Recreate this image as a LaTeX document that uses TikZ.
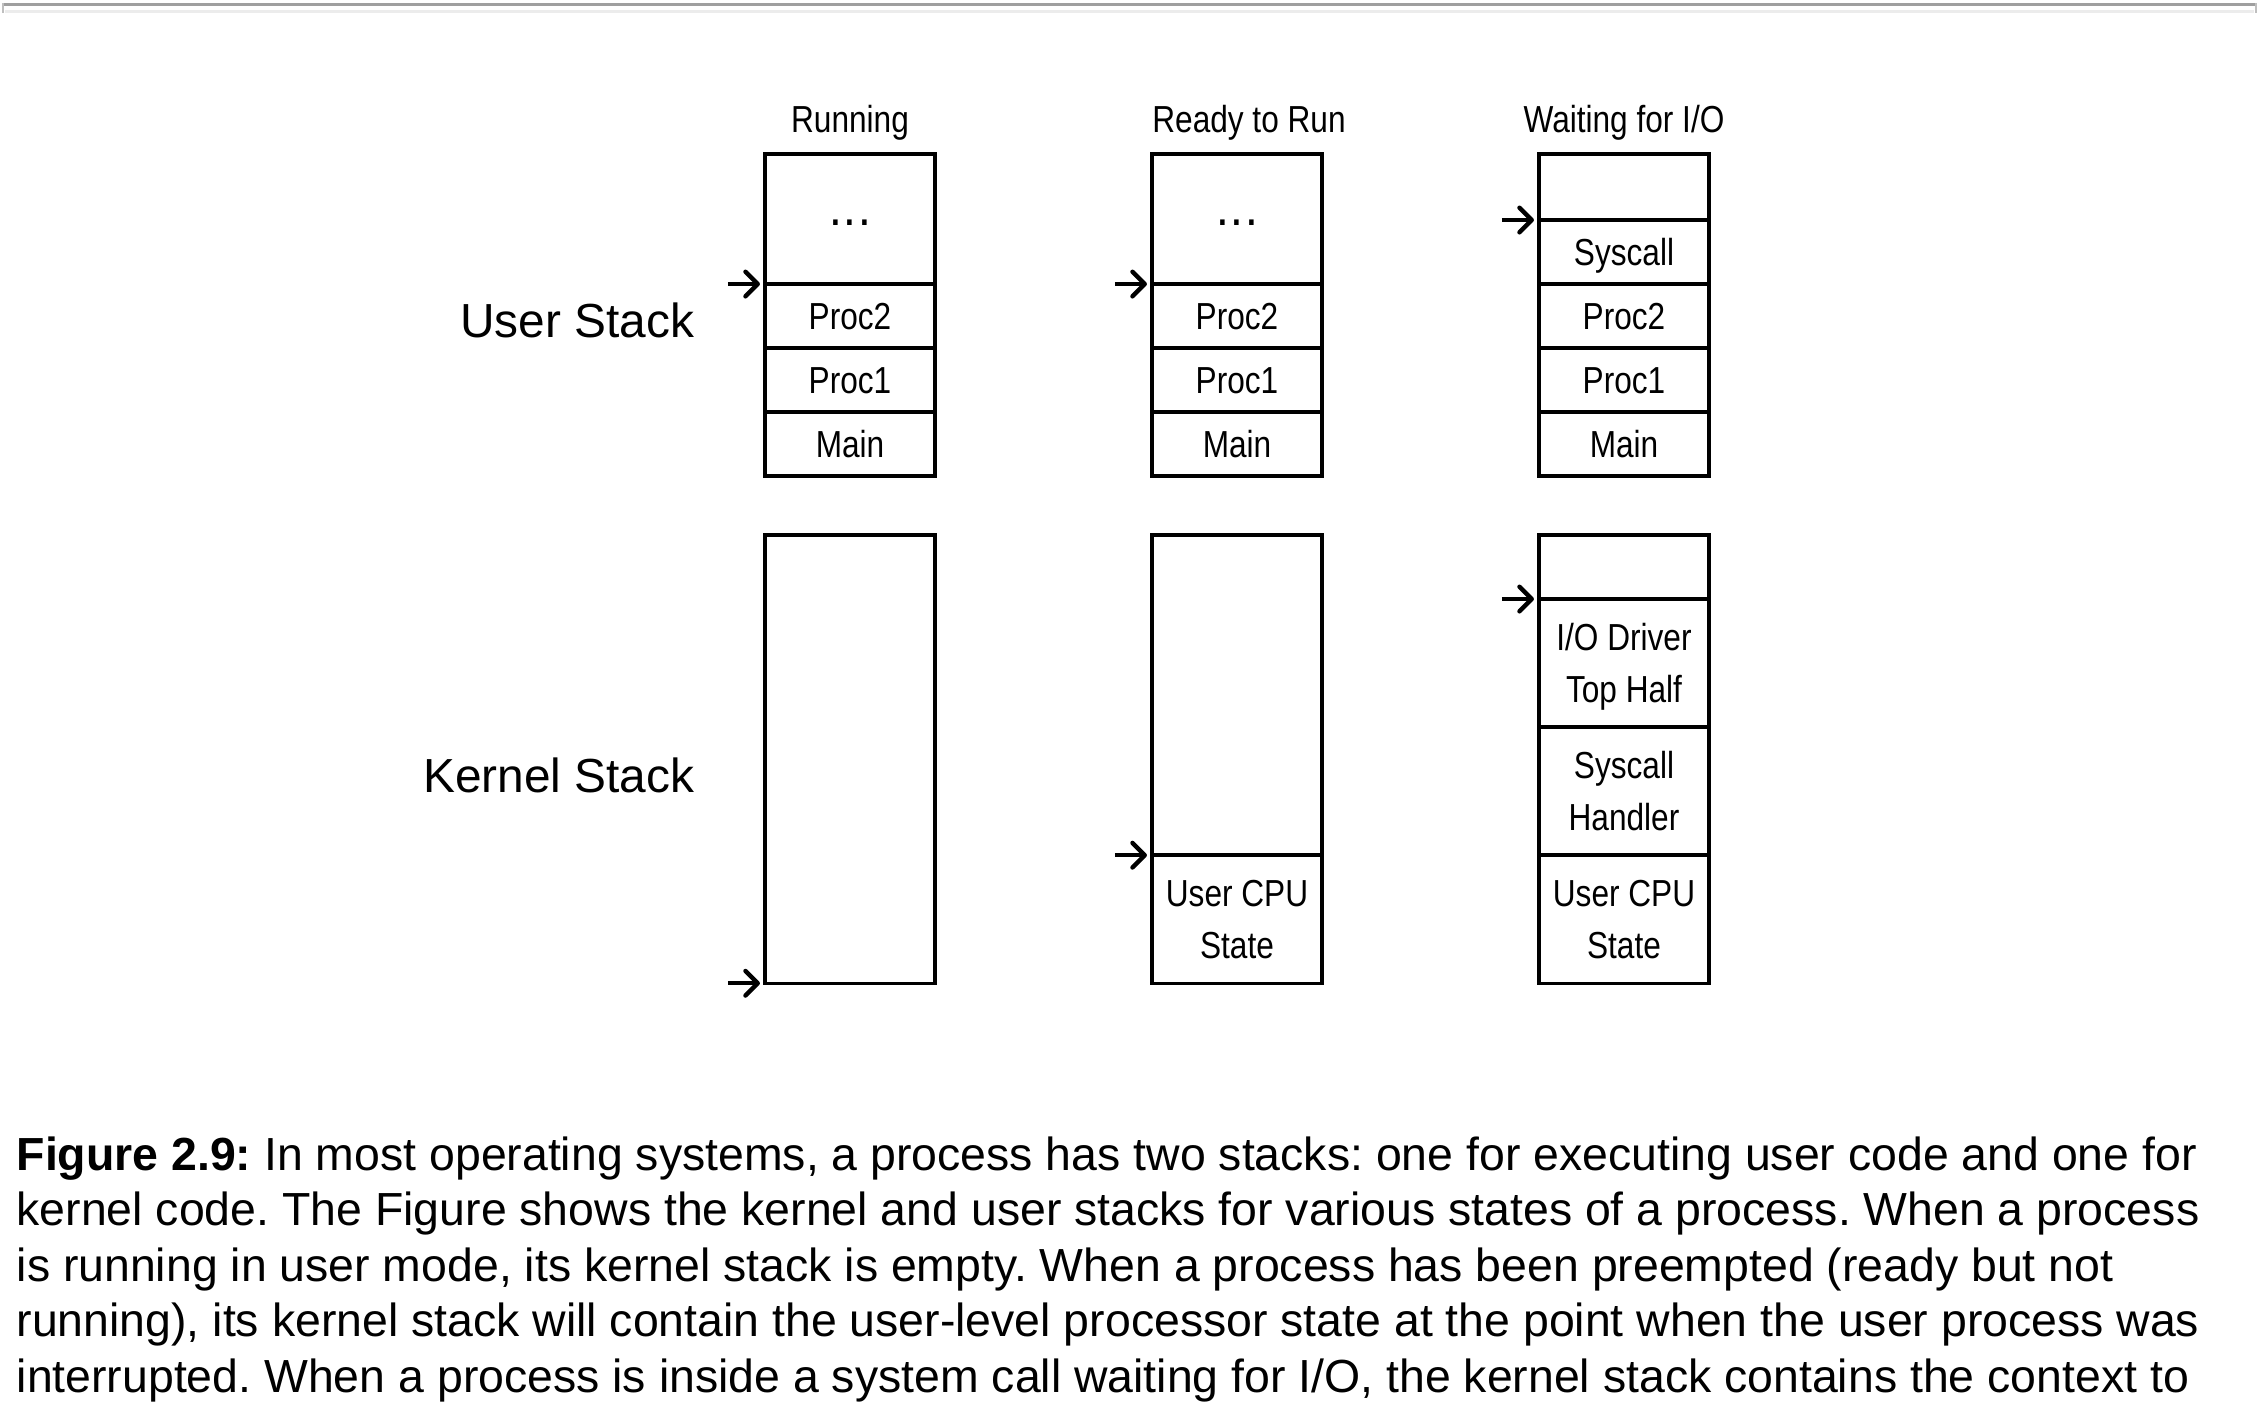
\documentclass[tikz,border=0pt]{standalone}
\usepackage{fontspec}
\setmainfont{Liberation Sans}
\newfontfamily\condfont[FakeStretch=0.84]{Liberation Sans}
\usetikzlibrary{arrows.meta, positioning}
\frenchspacing

\begin{document}
\begin{tikzpicture}[
  x=0.01cm, y=-0.01cm,
  cell/.style = {
    rectangle, draw, line width=1pt,
    minimum width=1.7cm, minimum height=0.64cm,
    inner sep=0pt, outer sep=0pt, align=center, text depth=0pt,
    font=\condfont\fontsize{10.7}{14.8}\selectfont
  },
  dots/.style = {cell, minimum height=1.30cm, text height=3.4pt},
  title/.style = {anchor=base, inner sep=0pt,
    font=\condfont\fontsize{10.7}{13}\selectfont},
  side/.style = {anchor=east, inner sep=0pt,
    font=\fontsize{13.6}{16}\selectfont},
  ptr/.style = {-{Straight Barb[round, length=3.5pt, width=7pt]}, line width=1.25pt},
  capline/.style = {anchor=base west, inner sep=0pt,
    font=\fontsize{13.2}{15.8}\selectfont}
]
\useasboundingbox (0,0) rectangle (2260,1428);
%--- LINHA DO TOPO ---
\draw[gray!75, line width=0.9pt] (3,4.5) -- (2256,4.5);
\draw[gray!15, line width=0.9pt] (5,11.5) -- (2254,11.5);
\draw[gray!50, line width=0.3pt] (3,3) -- (3,13) (2256,3) -- (2256,13);
%--- PILHA DE USUARIO: RUNNING ---
\node[dots, anchor=north] (runTop) at (850,154) {\bfseries .\kern1.6pt.\kern1.6pt.};
\node[cell, below=0pt of runTop]   (runP2)   {Proc2};
\node[cell, below=0pt of runP2]    (runP1)   {Proc1};
\node[cell, below=0pt of runP1]    (runMain) {Main};
%--- PILHA DE USUARIO: READY ---
\node[dots, anchor=north] (rdyTop) at (1237,154) {\bfseries .\kern1.6pt.\kern1.6pt.};
\node[cell, below=0pt of rdyTop]   (rdyP2)   {Proc2};
\node[cell, below=0pt of rdyP2]    (rdyP1)   {Proc1};
\node[cell, below=0pt of rdyP1]    (rdyMain) {Main};
%--- PILHA DE USUARIO: WAITING ---
\node[cell, minimum height=0.66cm, anchor=north] (waitTop) at (1624,154) {};
\node[cell, below=0pt of waitTop]  (waitSys)  {Syscall};
\node[cell, below=0pt of waitSys]  (waitP2)   {Proc2};
\node[cell, below=0pt of waitP2]   (waitP1)   {Proc1};
\node[cell, below=0pt of waitP1]   (waitMain) {Main};
%--- PILHA DO KERNEL ---
\node[cell, minimum height=4.48cm, anchor=north] (runK) at (850,535) {};
\node[cell, minimum height=3.20cm, anchor=north] (rdyK) at (1237,535) {};
\node[cell, minimum height=1.28cm, below=0pt of rdyK] (rdyCpu) {User CPU\\State};
\node[cell, minimum height=0.64cm, anchor=north] (waitK) at (1624,535) {};
\node[cell, minimum height=1.28cm, below=0pt of waitK]   (waitIO)  {I/O Driver\\Top Half};
\node[cell, minimum height=1.28cm, below=0pt of waitIO]  (waitHdl) {Syscall\\Handler};
\node[cell, minimum height=1.28cm, below=0pt of waitHdl] (waitCpu) {User CPU\\State};
%--- TITULOS ---
\node[title, above=0.21cm of runTop.north, anchor=base]  (tRun)  {Running};
\node[title, above=0.21cm of rdyTop.north, anchor=base, xshift=0.12cm] (tRdy) {Ready to Run};
\node[title, above=0.21cm of waitTop.north, anchor=base] (tWait) {Waiting for I/O};
\node[side] (userLbl) at (695,320) {User Stack};
\node[side] (kernLbl) at (695,775) {Kernel Stack};
%--- SETAS ---
\draw[ptr] ([xshift=-0.37cm]runP2.north west)   -- ([xshift=-0.05cm]runP2.north west);
\draw[ptr] ([xshift=-0.37cm]rdyP2.north west)   -- ([xshift=-0.05cm]rdyP2.north west);
\draw[ptr] ([xshift=-0.37cm]waitSys.north west) -- ([xshift=-0.05cm]waitSys.north west);
\draw[ptr] ([xshift=-0.37cm]runK.south west)    -- ([xshift=-0.05cm]runK.south west);
\draw[ptr] ([xshift=-0.37cm]rdyCpu.north west)  -- ([xshift=-0.05cm]rdyCpu.north west);
\draw[ptr] ([xshift=-0.37cm]waitIO.north west)  -- ([xshift=-0.05cm]waitIO.north west);
%--- LEGENDA ---
\node[capline] (cap1) at (16,1170) {\textbf{Figure 2.9:} In most operating systems, a process has two stacks: one for executing user code and one for};
\node[capline] (cap2) at (16,1225.5) {kernel code. The Figure shows the kernel and user stacks for various states of a process. When a process};
\node[capline] (cap3) at (16,1281) {is running in user mode, its kernel stack is empty. When a process has been preempted (ready but not};
\node[capline] (cap4) at (16,1336.5) {running), its kernel stack will contain the user-level processor state at the point when the user process was};
\node[capline] (cap5) at (16,1392) {interrupted. When a process is inside a system call waiting for I/O, the kernel stack contains the context to};
\end{tikzpicture}
\end{document}
